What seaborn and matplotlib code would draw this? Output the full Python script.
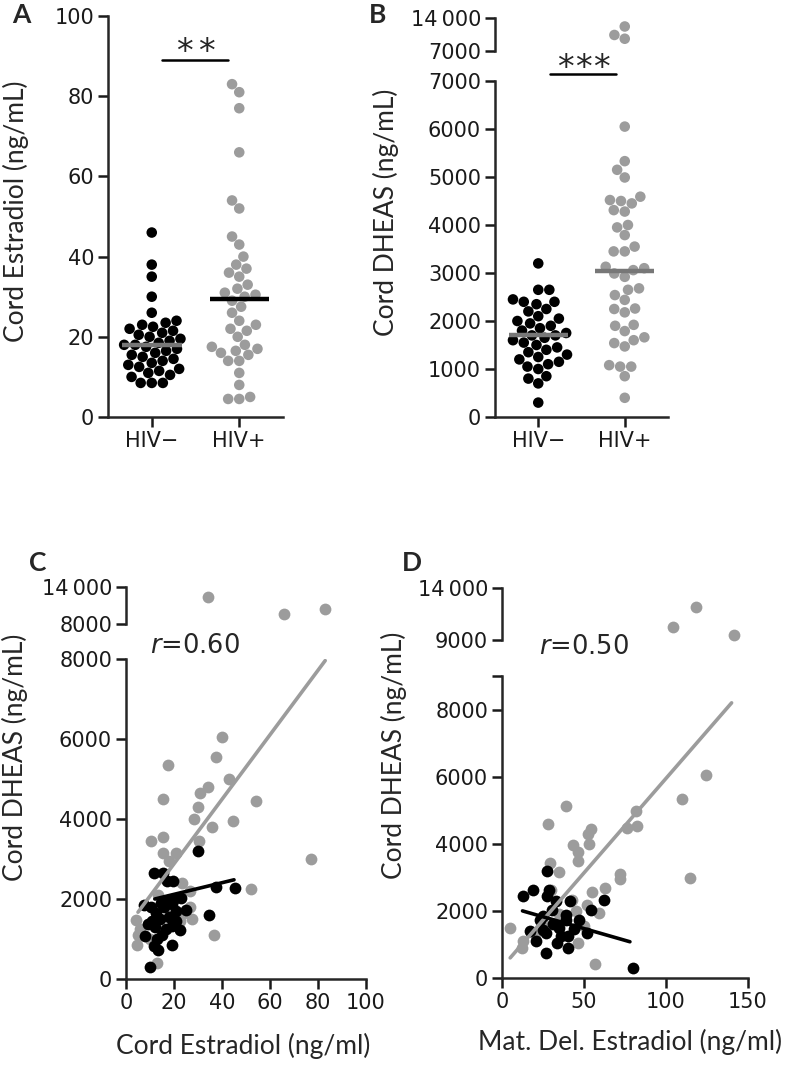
import warnings
import numpy as np
import pandas as pd
import matplotlib
matplotlib.use('Agg')
import matplotlib.pyplot as plt
import seaborn as sns

warnings.filterwarnings('ignore')

sns.set_style('ticks')
plt.rcParams['font.family'] = ['DejaVu Sans']

W, H = 792, 1072
BLACK = '#000000'
GREY = '#9c9c9c'
LABEL_FONT = ['Lato', 'DejaVu Sans']
LABEL_SIZE = 19

groups = ['HIV\u2212', 'HIV+']

# Panel A: cord estradiol (ng/mL)
a_neg = [46, 38, 35, 30, 26, 24, 23.5, 23, 22.5, 22, 21.5, 21, 20.5, 20, 19.5, 19,
         18.5, 18, 18, 17.5, 17, 16.5, 16, 15.5, 15, 14.5, 14, 13.5, 13, 12.5, 12,
         11.5, 11, 10.5, 10, 8.5, 8.5, 8.5]
a_pos = [83, 81, 77, 66, 54, 52, 45, 43, 40, 38, 37, 36, 35, 33, 32, 31, 30.5, 30,
         29, 27.5, 26, 24, 23, 22, 21.5, 20, 18, 17.5, 17, 16.5, 16, 15.5, 14, 14,
         11, 8, 5, 4.5, 4.5]
a_centre = [18, 29.5]

# Panel B: cord DHEAS (ng/mL)
b_neg = [3200, 2650, 2650, 2450, 2400, 2400, 2350, 2250, 2200, 2100, 2050, 2000,
         1950, 1900, 1850, 1800, 1750, 1700, 1700, 1650, 1600, 1550, 1500, 1450,
         1400, 1350, 1300, 1250, 1200, 1150, 1100, 1050, 1000, 850, 800, 700, 300]
b_pos = [12200, 9600, 10400, 6050, 5330, 5150, 4990, 4590, 4520, 4500, 4450, 4310,
         4280, 4000, 3950, 3790, 3550, 3450, 3450, 3130, 3100, 3060, 2990, 2920,
         2680, 2650, 2540, 2440, 2260, 2250, 2180, 1920, 1900, 1790, 1660, 1600,
         1540, 1470, 1080, 1050, 1050, 850, 400]
b_centre = [1700, 3050]

# Panel C: cord estradiol vs cord DHEAS
c_neg_x = [30, 11.5, 15.5, 19.5, 17, 37.5, 45.5, 23, 17.5, 19, 7.5, 25, 34.5, 10.5,
           14, 9, 12, 19, 22.5, 8, 13, 11.5, 13.5, 19, 10, 16, 21, 14.5, 12.5, 18,
           16.5, 20, 15, 11, 21]
c_neg_y = [3200, 2650, 2650, 2450, 2450, 2300, 2280, 2030, 1950, 1870, 1850, 1730,
           1600, 1800, 1500, 1380, 1300, 1330, 1230, 1080, 1000, 820, 730, 840, 300,
           1800, 1700, 1900, 1650, 1550, 1250, 2000, 1100, 1450, 1450]
c_pos_x = [34, 66, 83, 40, 37.5, 17.5, 43, 34, 31, 30, 28.5, 36, 44.5, 54, 15.5,
           15.5, 10.5, 30.5, 15.5, 21, 18, 77, 52, 26.5, 36.5, 4, 5, 4.5, 13, 22.5,
           27.5, 23.5, 26.5, 24, 13.5, 6, 19.5, 10]
c_pos_y = [12400, 9600, 10400, 6050, 5550, 5350, 5000, 4800, 4650, 4300, 4000, 3800,
           3950, 4450, 4500, 3550, 3450, 3450, 3150, 3150, 2950, 3000, 2250, 2200,
           1100, 1480, 1100, 850, 400, 1450, 1500, 2400, 1800, 1650, 2100, 1250,
           1600, 1000]
c_fit_neg = ([12, 45], [2000, 2480])
c_fit_pos = ([5, 83], [1670, 7960])

# Panel D: maternal delivery estradiol vs cord DHEAS
d_neg_x = [27.5, 19, 13, 28.5, 27.5, 33, 41.5, 62, 54, 39, 47, 25, 17, 25, 34.5,
           40.5, 33.5, 21, 27, 27, 40.5, 52, 39, 80, 30.5, 23, 36, 31, 44]
d_neg_y = [3200, 2630, 2430, 2630, 2430, 2280, 2280, 2310, 2040, 1890, 1740, 1840,
           1390, 1440, 1490, 1240, 1050, 1090, 1340, 750, 900, 1340, 1740, 300, 2040,
           1740, 1250, 1600, 1450]
d_pos_x = [118, 104, 141.5, 124.5, 110, 39, 28, 82, 82.5, 76, 54.5, 52.5, 53, 43,
           46.5, 46.5, 29.5, 35, 72, 72, 114.5, 62.5, 55, 59, 52, 5, 13, 12, 57,
           46.5, 42.5, 30, 50, 35, 25, 20, 45]
d_pos_y = [12160, 10230, 9480, 6060, 5320, 5130, 4580, 4980, 4530, 4480, 4450, 4300,
           4000, 3960, 3760, 3500, 3440, 3150, 3110, 2960, 2990, 2670, 2550, 1930,
           2180, 1480, 1090, 890, 410, 1040, 2320, 2620, 1550, 1900, 1600, 1300, 2000]
d_fit_neg = ([12.5, 78], [2000, 1080])
d_fit_pos = ([5, 140], [600, 8200])


def px_axes(fig, left, top, right, bottom):
    return fig.add_axes([left / W, 1 - bottom / H, (right - left) / W, (bottom - top) / H])


def style(ax):
    for s in ['top', 'right']:
        ax.spines[s].set_visible(False)
    for s in ['left', 'bottom']:
        ax.spines[s].set_linewidth(1.8)
    ax.tick_params(length=7, width=1.8, labelsize=15, pad=3, colors='#1a1a1a')
    ax.set_facecolor('none')
    ax.set_xlabel('')
    ax.set_ylabel('')


def style_upper(ax):
    style(ax)
    ax.spines['bottom'].set_visible(False)
    ax.set_xticks([])


def swarm(ax, values, group, size=7.6):
    df = pd.DataFrame({'group': group, 'value': values})
    sns.swarmplot(data=df, x='group', y='value', hue='group', order=groups,
                  hue_order=groups, palette=[BLACK, GREY], size=size, ax=ax,
                  legend=False, linewidth=0)


def centre_lines(ax, centres, colours):
    for i, (v, c) in enumerate(zip(centres, colours)):
        ax.plot([i - 0.34, i + 0.34], [v, v], color=c, lw=3.2, zorder=10,
                solid_capstyle='butt')


def stars(ax, xs, y):
    for x in xs:
        ax.text(x, y, '*', ha='center', va='center', fontsize=24)


def letter(x, y, s):
    fig.text(x / W, 1 - y / H, s, ha='center', va='center', fontsize=19,
             fontweight='bold', family=LABEL_FONT)


fig = plt.figure(figsize=(W / 100, H / 100), dpi=100)

# ---- A ----
ax = px_axes(fig, 108, 16, 283, 417)
swarm(ax, a_neg + a_pos, [groups[0]] * len(a_neg) + [groups[1]] * len(a_pos))
centre_lines(ax, a_centre, ['#777777', BLACK])
ax.set_xlim(-0.5, 1.5)
ax.set_ylim(0, 100)
ax.set_yticks(range(0, 101, 20))
style(ax)
ax.plot([0.115, 0.875], [89, 89], color=BLACK, lw=1.8, clip_on=False)
stars(ax, [0.37, 0.62], 90.8)
fig.text(16 / W, 1 - 211 / H, 'Cord Estradiol (ng/mL)', rotation=90,
         ha='center', va='center', fontsize=LABEL_SIZE, family=LABEL_FONT)
letter(21, 15, 'A')

# ---- B ----
b_low = [v for v in b_pos if v <= 7000]
b_high = [v for v in b_pos if v > 7000]
ax = px_axes(fig, 495, 81, 668, 417)
swarm(ax, b_neg + b_low, [groups[0]] * len(b_neg) + [groups[1]] * len(b_low))
centre_lines(ax, b_centre, ['#777777', '#777777'])
ax.set_xlim(-0.5, 1.5)
ax.set_ylim(0, 7000)
ax.set_yticks(range(0, 7001, 1000))
style(ax)
ax.plot([0.14, 0.9], [7146, 7146], color=BLACK, lw=1.8, clip_on=False)
stars(ax, [0.31, 0.52, 0.73], 7270)

axu = px_axes(fig, 495, 18, 668, 51)
swarm(axu, b_high, [groups[1]] * len(b_high))
axu.set_xlim(-0.5, 1.5)
axu.set_ylim(7000, 14000)
axu.set_yticks([7000, 14000])
axu.set_yticklabels(['7000', '14\u2009000'])
style_upper(axu)
for c in axu.collections:
    c.set_clip_on(False)
fig.text(386 / W, 1 - 212 / H, 'Cord DHEAS (ng/mL)', rotation=90,
         ha='center', va='center', fontsize=LABEL_SIZE, family=LABEL_FONT)
letter(378, 15, 'B')


def scatter_panel(left, right, top_hi, bot_hi, top_lo, bottom, xmax, xstep,
                  ymax, hi_min, neg_x, neg_y, pos_x, pos_y, fit_neg, fit_pos,
                  yticks, yticklabels, hi_labels):
    ax = px_axes(fig, left, top_lo, right, bottom)
    axu = px_axes(fig, left, top_hi, right, bot_hi)
    px_ = np.array(pos_x)
    py_ = np.array(pos_y)
    hi = py_ > ymax
    sns.scatterplot(x=px_[~hi], y=py_[~hi], color=GREY, s=72, linewidth=0,
                    ax=ax, zorder=2)
    sns.scatterplot(x=neg_x, y=neg_y, color=BLACK, s=72, linewidth=0, ax=ax,
                    zorder=3)
    sns.lineplot(x=fit_pos[0], y=fit_pos[1], color=GREY, lw=2.6, ax=ax, zorder=4)
    sns.lineplot(x=fit_neg[0], y=fit_neg[1], color=BLACK, lw=2.6, ax=ax, zorder=5)
    ax.set_xlim(0, xmax)
    ax.set_ylim(0, ymax)
    ax.set_xticks(np.arange(0, xmax + 1, xstep))
    ax.set_yticks(yticks)
    ax.set_yticklabels(yticklabels)
    style(ax)
    sns.scatterplot(x=px_[hi], y=py_[hi], color=GREY, s=72, linewidth=0, ax=axu,
                    clip_on=False)
    axu.set_xlim(0, xmax)
    axu.set_ylim(hi_min, 14000)
    axu.set_yticks([hi_min, 14000])
    axu.set_yticklabels(hi_labels)
    style_upper(axu)
    return ax, axu


# ---- C ----
ax, axu = scatter_panel(126, 366, 587, 624, 659, 979, 100, 20, 8000, 8000,
                        c_neg_x, c_neg_y, c_pos_x, c_pos_y, c_fit_neg, c_fit_pos,
                        [0, 2000, 4000, 6000, 8000],
                        ['0', '2000', '4000', '6000', '8000'],
                        ['8000', '14\u2009000'])
ax.text(0.1, 1.04, '$r$=0.60', transform=ax.transAxes, fontsize=18.5,
        ha='left', va='center')
fig.text(15 / W, 1 - 757 / H, 'Cord DHEAS (ng/mL)', rotation=90,
         ha='center', va='center', fontsize=LABEL_SIZE, family=LABEL_FONT)
fig.text(243 / W, 1 - 1046 / H, 'Cord Estradiol (ng/ml)', ha='center',
         va='center', fontsize=LABEL_SIZE, family=LABEL_FONT)
letter(38, 563, 'C')

# ---- D ----
ax, axu = scatter_panel(502, 748, 588, 640, 676, 978, 150, 50, 9000, 9000,
                        d_neg_x, d_neg_y, d_pos_x, d_pos_y, d_fit_neg, d_fit_pos,
                        [0, 2000, 4000, 6000, 8000, 9000],
                        ['0', '2000', '4000', '6000', '8000', ''],
                        ['9000', '14\u2009000'])
ax.text(0.15, 1.095, '$r$=0.50', transform=ax.transAxes, fontsize=18.5,
        ha='left', va='center')
fig.text(394 / W, 1 - 755 / H, 'Cord DHEAS (ng/mL)', rotation=90,
         ha='center', va='center', fontsize=LABEL_SIZE, family=LABEL_FONT)
fig.text(630 / W, 1 - 1042 / H, 'Mat. Del. Estradiol (ng/ml)', ha='center',
         va='center', fontsize=LABEL_SIZE, family=LABEL_FONT)
letter(412, 563, 'D')

fig.savefig('out.png', dpi=100, facecolor='white')
